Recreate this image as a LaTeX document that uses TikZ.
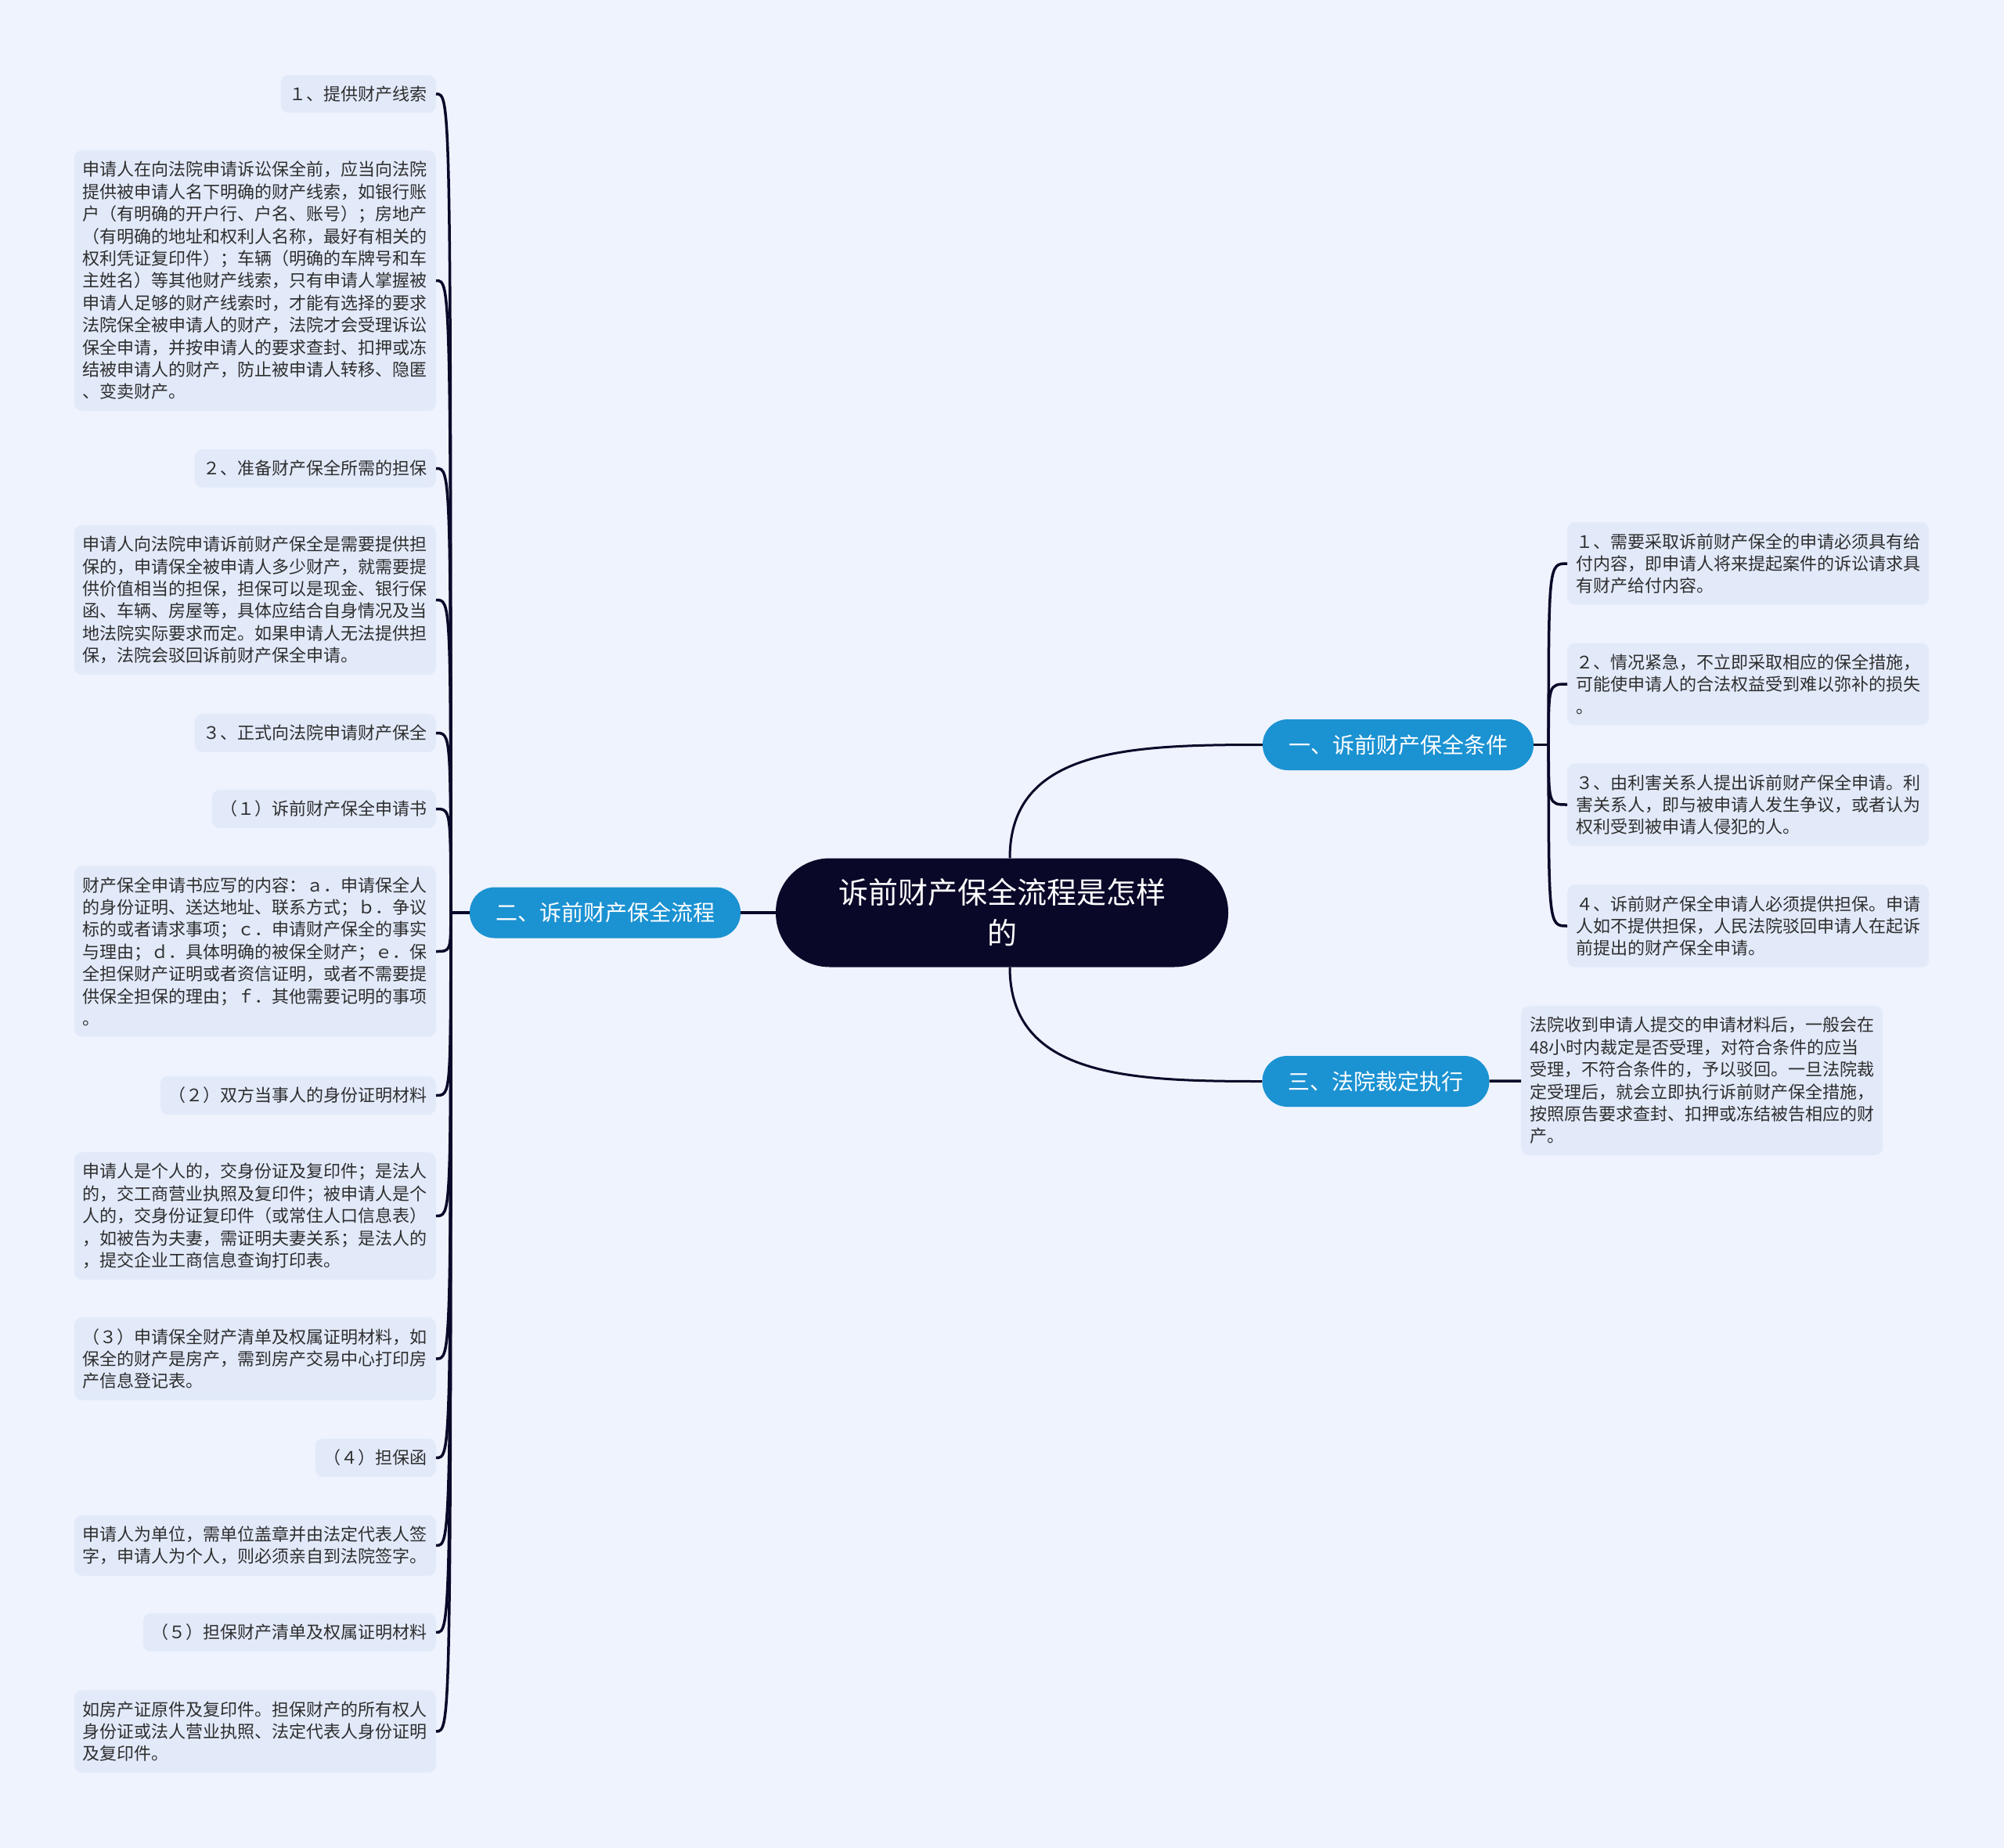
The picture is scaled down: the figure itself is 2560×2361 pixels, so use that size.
\documentclass[tikz,border=0pt]{standalone}
\usepackage{fontspec}
\newfontfamily\cjk{Noto Sans CJK SC}
\usetikzlibrary{positioning}

\definecolor{bgcol}{HTML}{EEF3FD}
\definecolor{leafcol}{HTML}{E2EAFA}
\definecolor{branchcol}{HTML}{1B92D2}
\definecolor{rootcol}{HTML}{0A0829}
\definecolor{txtcol}{HTML}{2E2E2E}

\tikzset{
  rootnode/.style={fill=rootcol, text=white, rounded corners=69pt, minimum width=578pt,
    minimum height=139pt, align=center, font=\cjk\fontsize{38}{52}\selectfont},
  branch/.style={fill=branchcol, text=white, rounded corners=32pt, minimum height=65pt,
    inner xsep=33pt, font=\cjk\fontsize{28}{34}\selectfont},
  leaf/.style={fill=leafcol, text=txtcol, rounded corners=10pt, inner xsep=11pt,
    inner ysep=14pt, align=left, font=\cjk\fontsize{22}{28.4}\selectfont},
  link/.style={draw=rootcol, line width=3.5pt},
  rootlink/.style={draw=rootcol, line width=3pt},
}

\begin{document}
\begin{tikzpicture}[x=1pt, y=1pt]
  \fill[bgcol] (0,0) rectangle (2560,-2361);
  \useasboundingbox (0,0) rectangle (2560,-2361);

  % centre and main branches
  \node[rootnode] (root) at (1280,-1166) {诉前财产保全流程是怎样\\的};
  \node[branch] (b1) at (1786,-951.5) {一、诉前财产保全条件};
  \node[branch] (b2) at (773,-1166) {二、诉前财产保全流程};
  \node[branch] (b3) at (1757.5,-1381.5) {三、法院裁定执行};

  \coordinate[right=19pt of b1] (s1);
  \coordinate[left=24pt of b2] (s2);

  % right side
  \node[leaf, anchor=west] (r1) at (2002,-720) {１、需要采取诉前财产保全的申请必须具有给\\付内容，即申请人将来提起案件的诉讼请求具\\有财产给付内容。};
  \node[leaf, anchor=west] (r2) at (2002,-874) {２、情况紧急，不立即采取相应的保全措施，\\可能使申请人的合法权益受到难以弥补的损失\\。};
  \node[leaf, anchor=west] (r3) at (2002,-1028) {３、由利害关系人提出诉前财产保全申请。利\\害关系人，即与被申请人发生争议，或者认为\\权利受到被申请人侵犯的人。};
  \node[leaf, anchor=west] (r4) at (2002,-1183) {４、诉前财产保全申请人必须提供担保。申请\\人如不提供担保，人民法院驳回申请人在起诉\\前提出的财产保全申请。};
  \node[leaf, anchor=west] (b3t) at (1943,-1380.5) {法院收到申请人提交的申请材料后，一般会在\\48小时内裁定是否受理，对符合条件的应当\\受理，不符合条件的，予以驳回。一旦法院裁\\定受理后，就会立即执行诉前财产保全措施，\\按照原告要求查封、扣押或冻结被告相应的财\\产。};

  % left side
  \node[leaf, anchor=east] (l1) at (557,-120) {１、提供财产线索};
  \node[leaf, anchor=east] (l1t) at (557,-358.5) {申请人在向法院申请诉讼保全前，应当向法院\\提供被申请人名下明确的财产线索，如银行账\\户（有明确的开户行、户名、账号）；房地产\\（有明确的地址和权利人名称，最好有相关的\\权利凭证复印件）；车辆（明确的车牌号和车\\主姓名）等其他财产线索，只有申请人掌握被\\申请人足够的财产线索时，才能有选择的要求\\法院保全被申请人的财产，法院才会受理诉讼\\保全申请，并按申请人的要求查封、扣押或冻\\结被申请人的财产，防止被申请人转移、隐匿\\、变卖财产。};
  \node[leaf, anchor=east] (l2) at (557,-598.5) {２、准备财产保全所需的担保};
  \node[leaf, anchor=east] (l2t) at (557,-766.5) {申请人向法院申请诉前财产保全是需要提供担\\保的，申请保全被申请人多少财产，就需要提\\供价值相当的担保，担保可以是现金、银行保\\函、车辆、房屋等，具体应结合自身情况及当\\地法院实际要求而定。如果申请人无法提供担\\保，法院会驳回诉前财产保全申请。};
  \node[leaf, anchor=east] (l3) at (557,-936.5) {３、正式向法院申请财产保全};
  \node[leaf, anchor=east] (l4) at (557,-1033.5) {（１）诉前财产保全申请书};
  \node[leaf, anchor=east] (l4t) at (557,-1215.5) {财产保全申请书应写的内容：ａ．申请保全人\\的身份证明、送达地址、联系方式；ｂ．争议\\标的或者请求事项；ｃ．申请财产保全的事实\\与理由；ｄ．具体明确的被保全财产；ｅ．保\\全担保财产证明或者资信证明，或者不需要提\\供保全担保的理由；ｆ．其他需要记明的事项\\。};
  \node[leaf, anchor=east] (l5) at (557,-1399.5) {（２）双方当事人的身份证明材料};
  \node[leaf, anchor=east] (l5t) at (557,-1553.5) {申请人是个人的，交身份证及复印件；是法人\\的，交工商营业执照及复印件；被申请人是个\\人的，交身份证复印件（或常住人口信息表）\\，如被告为夫妻，需证明夫妻关系；是法人的\\，提交企业工商信息查询打印表。};
  \node[leaf, anchor=east] (l6) at (557,-1736) {（３）申请保全财产清单及权属证明材料，如\\保全的财产是房产，需到房产交易中心打印房\\产信息登记表。};
  \node[leaf, anchor=east] (l7) at (557,-1862.5) {（４）担保函};
  \node[leaf, anchor=east] (l7t) at (557,-1974.5) {申请人为单位，需单位盖章并由法定代表人签\\字，申请人为个人，则必须亲自到法院签字。};
  \node[leaf, anchor=east] (l8) at (557,-2085.5) {（５）担保财产清单及权属证明材料};
  \node[leaf, anchor=east] (l8t) at (557,-2212) {如房产证原件及复印件。担保财产的所有权人\\身份证或法人营业执照、法定代表人身份证明\\及复印件。};

  % connectors
  \draw[rootlink] ([xshift=10pt]root.north) .. controls +(0,140) and +(-170,0) .. (b1.west);
  \draw[rootlink] ([xshift=10pt]root.south) .. controls +(0,-140) and +(-170,0) .. (b3.west);
  \draw[link] (root) -- (b2);
  \draw[link] (b1) -- (s1);
  \draw[link] (b2) -- (s2);
  \draw[link] (b3) -- (b3t);
  \foreach \n in {r1,r2,r3,r4}
    \draw[link] (s1) .. controls (s1 |- \n.west) .. (\n.west);
  \foreach \n in {l1,l1t,l2,l2t,l3,l4,l4t,l5,l5t,l6,l7,l7t,l8,l8t}
    \draw[link] (s2) .. controls (s2 |- \n.east) .. (\n.east);
\end{tikzpicture}
\end{document}
